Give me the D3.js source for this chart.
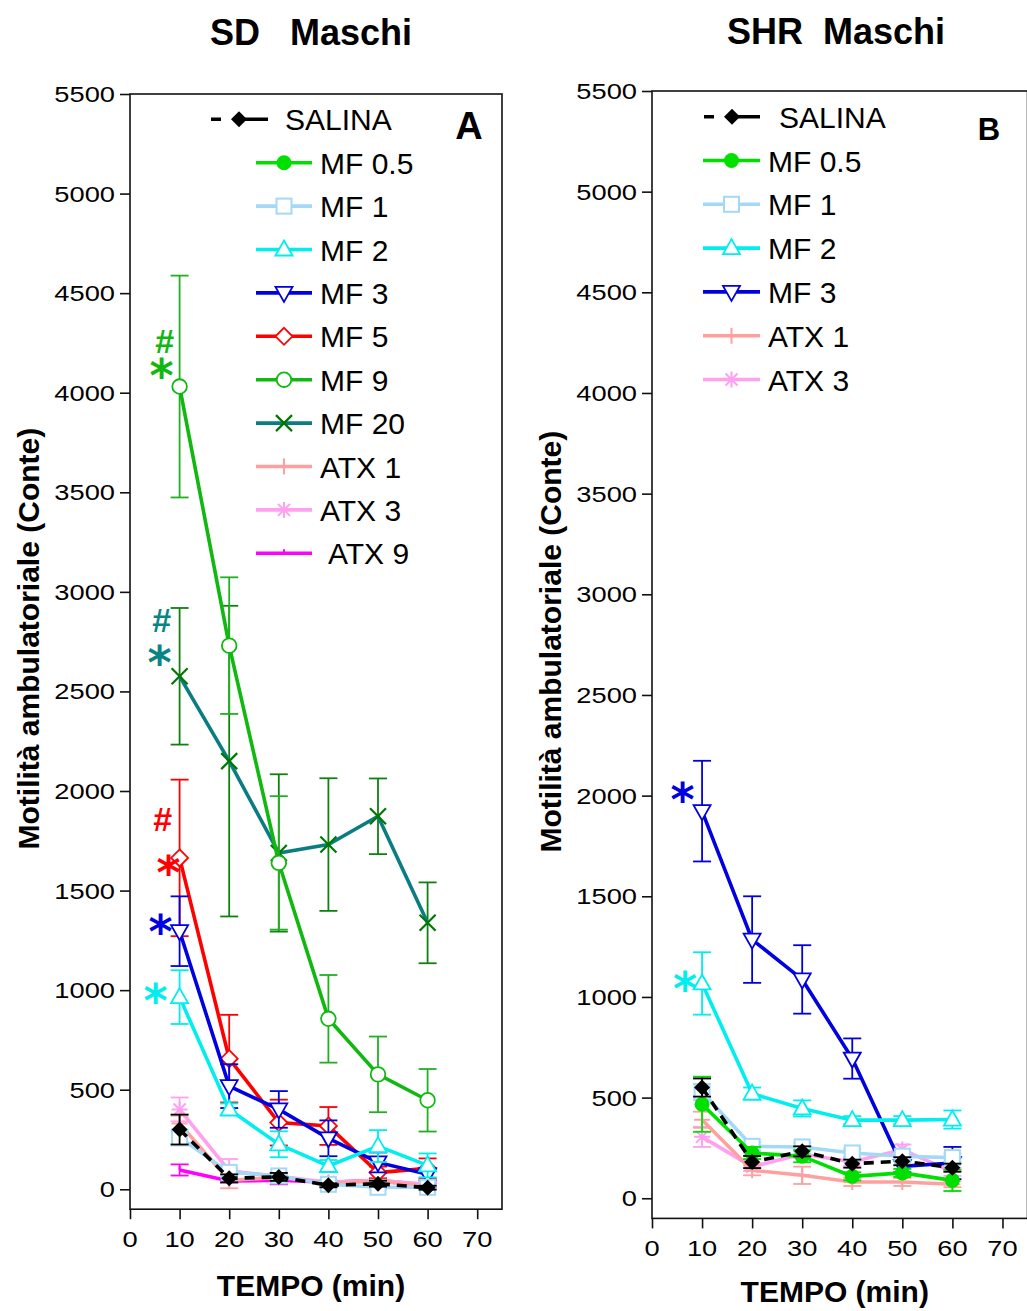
<!DOCTYPE html>
<html>
<head>
<meta charset="utf-8">
<script src="https://cdn.jsdelivr.net/npm/d3@7"></script>
<style>
  body { margin: 0; background: #fff; }
  svg { display: block; }
  text { font-family: "Liberation Sans", Arial, sans-serif; }
</style>
</head>
<body>
<svg width="1027" height="1311"></svg>
<script>
// ---- data ----
const times = [10, 20, 30, 40, 50, 60];
const xTicks = [0, 10, 20, 30, 40, 50, 60, 70];
const yTicks = [0, 500, 1000, 1500, 2000, 2500, 3000, 3500, 4000, 4500, 5000, 5500];

// SD Maschi (panel A)
const sdSalina = [300, 55, 62, 20, 28, 8];
const sdSalinaErr = [75, 20, 20, 10, 15, 10];
const sdMF1 = [260, 85, 67, 25, 10, 10];
const sdMF1Err = [40, 20, 15, 10, 10, 10];
const sdMF2 = [965, 401, 226, 117, 217, 120];
const sdMF2Err = [135, 30, 65, 30, 80, 60];
const sdMF3 = [1296, 518, 401, 256, 135, 75];
const sdMF3Err = [175, 110, 92, 90, 50, 30];
const sdMF5 = [1664, 656, 335, 318, 84, 105];
const sdMF5Err = [393, 220, 115, 95, 30, 50];
const sdMF9 = [4031, 2730, 1639, 856, 577, 447];
const sdMF9Err = [557, 343, 335, 220, 190, 157];
const sdMF20 = [2576, 2150, 1689, 1731, 1873, 1338];
const sdMF20Err = [343, 780, 395, 333, 190, 203];
const sdATX1 = [330, 45, 60, 30, 40, 15];
const sdATX1Err = [40, 40, 20, 10, 10, 10];
const sdATX3 = [401, 92, 65, 35, 45, 25];
const sdATX3Err = [60, 60, 20, 10, 10, 10];
const sdATX9 = [97, 42, 45, 35, 45, 20];
const sdATX9Err = [28, 10, 20, 10, 10, 10];

// SHR Maschi (panel B)
const shrSalina = [550, 180, 233, 172, 184, 152];
const shrSalinaErr = [45, 30, 25, 20, 20, 20];
const shrMF05 = [467, 225, 209, 109, 126, 89];
const shrMF05Err = [137, 30, 30, 20, 20, 53];
const shrMF1 = [528, 258, 255, 225, 209, 202];
const shrMF1Err = [40, 20, 20, 20, 20, 20];
const shrMF2 = [1067, 520, 446, 388, 388, 391];
const shrMF2Err = [155, 30, 40, 20, 20, 45];
const shrMF3 = [1923, 1285, 1087, 694, 159, 175];
const shrMF3Err = [250, 215, 170, 100, 30, 80];
const shrATX1 = [390, 139, 114, 81, 81, 70];
const shrATX1Err = [40, 25, 43, 20, 20, 15];
const shrATX3 = [305, 156, 220, 180, 242, 131];
const shrATX3Err = [50, 20, 20, 20, 25, 20];

const sdLegend = ["SALINA", "MF 0.5", "MF 1", "MF 2", "MF 3", "MF 5", "MF 9", "MF 20", "ATX 1", "ATX 3", "ATX 9"];
const shrLegend = ["SALINA", "MF 0.5", "MF 1", "MF 2", "MF 3", "ATX 1", "ATX 3"];

// significance marks at t = 10: [series, symbols]
const sdMarks = [["MF 9", ["#", "*"]], ["MF 20", ["#", "*"]], ["MF 5", ["#", "*"]], ["MF 3", ["*"]], ["MF 2", ["*"]]];
const shrMarks = [["MF 3", ["*"]], ["MF 2", ["*"]]];

// ---- styles ----
const styles = {
  "SALINA": { color: "#000000", marker: "diamondFill", dash: "10,7" },
  "MF 0.5": { color: "#00e000", marker: "circleFill" },
  "MF 1":   { color: "#a3d9f7", marker: "square" },
  "MF 2":   { color: "#00eeee", marker: "triUp" },
  "MF 3":   { color: "#0000e0", marker: "triDown" },
  "MF 5":   { color: "#ff0000", marker: "diamond" },
  "MF 9":   { color: "#10b810", marker: "circle", err: "#22b022" },
  "MF 20":  { color: "#0a7d80", marker: "cross", mark: "#007800", err: "#108010", sig: "#0a8585" },
  "ATX 1":  { color: "#ffa0a0", marker: "plus" },
  "ATX 3":  { color: "#ffa0f0", marker: "star" },
  "ATX 9":  { color: "#ff00ff", marker: "tick" }
};
const drawOrder = ["ATX 9", "ATX 3", "ATX 1", "MF 20", "MF 9", "MF 5", "MF 3", "MF 2", "MF 1", "MF 0.5", "SALINA"];

const svg = d3.select("svg");

function addMarker(g, st) {
  const c = st.mark || st.color;
  switch (st.marker) {
    case "diamondFill":
      g.append("path").attr("d", "M0,-8L8,0L0,8L-8,0Z").attr("fill", "#000"); break;
    case "circleFill":
      g.append("circle").attr("r", 7.5).attr("fill", c); break;
    case "square":
      g.append("rect").attr("x", -7.5).attr("y", -7.5).attr("width", 15).attr("height", 15)
        .attr("fill", "#fff").attr("stroke", c).attr("stroke-width", 2); break;
    case "triUp":
      g.append("path").attr("d", "M0,-9L8.5,6L-8.5,6Z").attr("fill", "#fff")
        .attr("stroke", c).attr("stroke-width", 1.8); break;
    case "triDown":
      g.append("path").attr("d", "M0,9L8.5,-6L-8.5,-6Z").attr("fill", "#fff")
        .attr("stroke", c).attr("stroke-width", 1.8); break;
    case "diamond":
      g.append("path").attr("d", "M0,-8.5L8.5,0L0,8.5L-8.5,0Z").attr("fill", "#fff")
        .attr("stroke", c).attr("stroke-width", 1.8); break;
    case "circle":
      g.append("circle").attr("r", 7.3).attr("fill", "#fff")
        .attr("stroke", c).attr("stroke-width", 1.8); break;
    case "cross":
      g.append("path").attr("d", "M-8,-8L8,8M-8,8L8,-8").attr("stroke", c).attr("stroke-width", 2.2); break;
    case "plus":
      g.append("path").attr("d", "M-8,0H8M0,-8V8").attr("stroke", c).attr("stroke-width", 2); break;
    case "star":
      g.append("path").attr("d", "M-8,0H8M0,-8V8M-6,-6L6,6M-6,6L6,-6").attr("stroke", c).attr("stroke-width", 2); break;
    case "tick":
      g.append("path").attr("d", "M0,-4V0").attr("stroke", c).attr("stroke-width", 2); break;
  }
}

function drawPanel(p) {
  const x = d3.scaleLinear().domain([0, 75]).range([p.left, p.right]);
  const y = d3.scaleLinear().domain([-100, 5500]).range([p.bottom, p.top]);
  const g = svg.append("g");

  // frame
  g.append("rect")
    .attr("x", x(0)).attr("y", y(5500))
    .attr("width", x(75) - x(0)).attr("height", y(-100) - y(5500))
    .attr("fill", "none").attr("stroke", "#111").attr("stroke-width", 1.6);

  // ticks
  g.append("g").attr("transform", `translate(${x(0)},0)`)
    .call(d3.axisLeft(y).tickValues(yTicks).tickSize(10).tickSizeOuter(0).tickFormat(""))
    .call(a => a.select(".domain").remove())
    .call(a => a.selectAll("line").attr("stroke", "#111").attr("stroke-width", 1.6));
  g.append("g").attr("transform", `translate(0,${y(-100)})`)
    .call(d3.axisBottom(x).tickValues(xTicks).tickSize(10).tickSizeOuter(0).tickFormat(""))
    .call(a => a.select(".domain").remove())
    .call(a => a.selectAll("line").attr("stroke", "#111").attr("stroke-width", 1.6));

  // tick labels (wide face)
  g.selectAll(".ylab").data(yTicks).join("text")
    .attr("transform", d => `translate(${x(0) - 15},${y(d) + 8}) scale(1.24,1)`)
    .attr("text-anchor", "end").attr("font-size", 22).text(d => d);
  g.selectAll(".xlab").data(xTicks).join("text")
    .attr("transform", d => `translate(${x(d)},${y(-100) + 38}) scale(1.24,1)`)
    .attr("text-anchor", "middle").attr("font-size", 22).text(d => d);

  // titles
  g.append("text").attr("x", p.titleX).attr("y", p.titleY)
    .attr("text-anchor", "middle").attr("font-size", 36).attr("font-weight", "bold")
    .style("white-space", "pre").text(p.title);
  g.append("text").attr("x", (x(0) + x(75)) / 2 - 5).attr("y", p.xLabY)
    .attr("text-anchor", "middle").attr("font-size", 30).attr("font-weight", "bold")
    .text("TEMPO (min)");
  g.append("text").attr("transform", `translate(${p.yLabX},${(y(0) + y(5500)) / 2 - 3}) rotate(-90)`)
    .attr("text-anchor", "middle").attr("font-size", 30).attr("font-weight", "bold")
    .text("Motilità ambulatoriale (Conte)");
  g.append("text").attr("x", p.letterX).attr("y", p.letterY)
    .attr("text-anchor", "middle").attr("font-size", p.letterSize).attr("font-weight", "bold")
    .text(p.letter);

  // series
  const byName = new Map(p.series.map(s => [s.name, s]));
  drawOrder.filter(n => byName.has(n)).forEach(n => {
    const s = byName.get(n), st = styles[n];
    const pts = times.map((t, i) => ({ t: t, v: s.v[i], e: s.e[i] }));
    const sg = g.append("g");
    const eb = sg.append("g").attr("stroke", st.err || st.color).attr("stroke-width", 1.8);
    pts.forEach(d => {
      const cx = x(d.t), y0 = y(d.v - d.e), y1 = y(d.v + d.e);
      eb.append("line").attr("x1", cx).attr("x2", cx).attr("y1", y0).attr("y2", y1);
      eb.append("line").attr("x1", cx - 9).attr("x2", cx + 9).attr("y1", y0).attr("y2", y0);
      eb.append("line").attr("x1", cx - 9).attr("x2", cx + 9).attr("y1", y1).attr("y2", y1);
    });
    sg.append("path").datum(pts)
      .attr("d", d3.line().x(d => x(d.t)).y(d => y(d.v)))
      .attr("fill", "none").attr("stroke", st.color).attr("stroke-width", 3.6)
      .attr("stroke-dasharray", st.dash || null);
    pts.forEach(d => {
      const mg = sg.append("g").attr("transform", `translate(${x(d.t)},${y(d.v)})`);
      addMarker(mg, st);
    });
  });

  // significance marks, one text per series (stacked # over *)
  p.marks.forEach(([n, syms], i) => {
    const s = byName.get(n), st = styles[n];
    const offs = p.markOffsets[i];
    const t = g.append("text").attr("text-anchor", "middle").attr("font-weight", "bold")
      .attr("fill", st.sig || st.color);
    syms.forEach((sym, j) => {
      const cx = x(times[0]) + offs[j][0], cy = y(s.v[0]) + offs[j][1];
      const star = sym === "*";
      t.append("tspan")
        .attr("x", cx).attr("y", star ? cy + 25 : cy + 12)
        .attr("font-size", star ? 46 : 34)
        .attr("font-family", star ? "DejaVu Sans" : null)
        .text(sym);
    });
  });

  // legend
  p.legend.forEach((n, i) => {
    const st = styles[n];
    const ly = p.legY + i * p.legStep;
    const lg = g.append("g");
    if (n === "SALINA") {
      lg.append("line").attr("x1", p.salX0).attr("x2", p.salX1).attr("y1", ly).attr("y2", ly)
        .attr("stroke", "#000").attr("stroke-width", 3.6).attr("stroke-dasharray", "10,14,200");
      addMarker(lg.append("g").attr("transform", `translate(${p.salMx},${ly})`), st);
      lg.append("text").attr("x", p.salTx).attr("y", ly + 11).attr("font-size", 30).text(n);
    } else {
      lg.append("line").attr("x1", p.legX0).attr("x2", p.legX1).attr("y1", ly).attr("y2", ly)
        .attr("stroke", st.color).attr("stroke-width", 3.6);
      addMarker(lg.append("g").attr("transform", `translate(${(p.legX0 + p.legX1) / 2},${ly})`), st);
      lg.append("text").attr("x", p.legTx + (n === "ATX 9" ? 8 : 0)).attr("y", ly + 11)
        .attr("font-size", 30).text(n);
    }
  });
}

drawPanel({
  left: 130, right: 502, top: 94, bottom: 1209.2,
  title: "SD   Maschi", titleX: 311, titleY: 45,
  xLabY: 1296, yLabX: 39,
  letter: "A", letterX: 469, letterY: 139, letterSize: 38,
  series: [
    { name: "SALINA", v: sdSalina, e: sdSalinaErr },
    { name: "MF 1", v: sdMF1, e: sdMF1Err },
    { name: "MF 2", v: sdMF2, e: sdMF2Err },
    { name: "MF 3", v: sdMF3, e: sdMF3Err },
    { name: "MF 5", v: sdMF5, e: sdMF5Err },
    { name: "MF 9", v: sdMF9, e: sdMF9Err },
    { name: "MF 20", v: sdMF20, e: sdMF20Err },
    { name: "ATX 1", v: sdATX1, e: sdATX1Err },
    { name: "ATX 3", v: sdATX3, e: sdATX3Err },
    { name: "ATX 9", v: sdATX9, e: sdATX9Err }
  ],
  marks: sdMarks,
  markOffsets: [[[-15, -46], [-18, -20]], [[-18, -56], [-20, -22]], [[-17, -39], [-11, 6]], [[-19, -8]], [[-24, -5]]],
  legend: sdLegend, legY: 119.3, legStep: 43.4,
  legX0: 256, legX1: 312, legTx: 320,
  salX0: 211, salX1: 268, salMx: 239, salTx: 285
});

drawPanel({
  left: 652, right: 1027.5, top: 91, bottom: 1218.4,
  title: "SHR  Maschi", titleX: 836, titleY: 43.5,
  xLabY: 1302, yLabX: 561,
  letter: "B", letterX: 989, letterY: 140, letterSize: 31,
  series: [
    { name: "SALINA", v: shrSalina, e: shrSalinaErr },
    { name: "MF 0.5", v: shrMF05, e: shrMF05Err },
    { name: "MF 1", v: shrMF1, e: shrMF1Err },
    { name: "MF 2", v: shrMF2, e: shrMF2Err },
    { name: "MF 3", v: shrMF3, e: shrMF3Err },
    { name: "ATX 1", v: shrATX1, e: shrATX1Err },
    { name: "ATX 3", v: shrATX3, e: shrATX3Err }
  ],
  marks: shrMarks,
  markOffsets: [[[-19.5, -20]], [[-17, -3.5]]],
  legend: shrLegend, legY: 116.7, legStep: 43.8,
  legX0: 703, legX1: 760, legTx: 768,
  salX0: 704, salX1: 760, salMx: 732, salTx: 779
});
</script>
</body>
</html>
